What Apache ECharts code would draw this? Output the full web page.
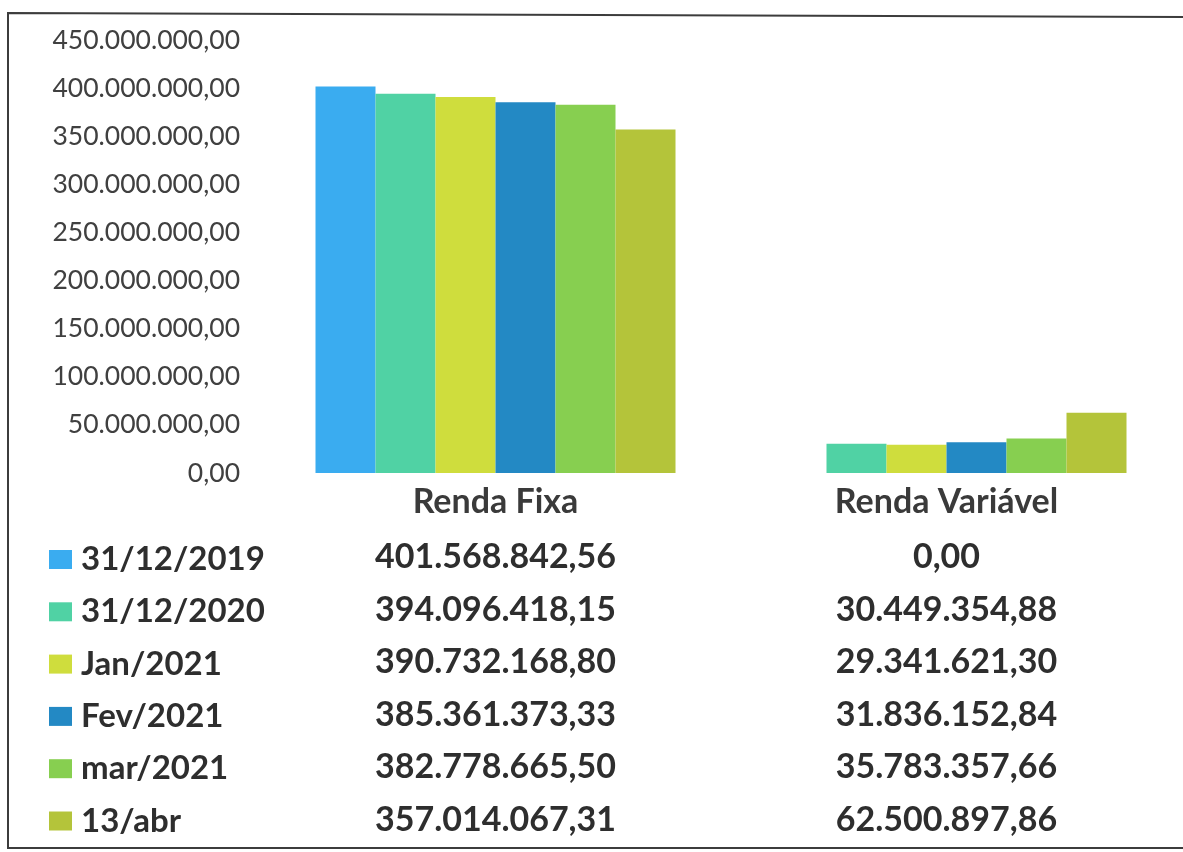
<!DOCTYPE html>
<html>
<head>
<meta charset="utf-8">
<title>Renda Fixa e Renda Variável</title>
<script src="https://cdn.jsdelivr.net/npm/echarts@6/dist/echarts.min.js"></script>
<style>
  html, body { margin: 0; padding: 0; background: #ffffff; }
  #chart { width: 1183px; height: 852px; }
</style>
</head>
<body>
<div id="chart"></div>
<script>
// Categories on the x axis
const categories = ['Renda Fixa', 'Renda Variável'];

// One series per reference date
const seriesNames = ['31/12/2019', '31/12/2020', 'Jan/2021', 'Fev/2021', 'mar/2021', '13/abr'];

// Values per date: Renda Fixa
const rendaFixa = [401568842.56, 394096418.15, 390732168.80, 385361373.33, 382778665.50, 357014067.31];
// Values per date: Renda Variável
const rendaVariavel = [0.00, 30449354.88, 29341621.30, 31836152.84, 35783357.66, 62500897.86];

// Value axis ticks
const yMin = 0;
const yMax = 450000000;
const yStep = 50000000;

const seriesColors = ['#3aacf0', '#50d2a4', '#cfdd3d', '#2389c4', '#87cf50', '#b4c43a'];

// Brazilian number format: 1.234.567,89
function formatBR(v) {
  const fixed = Math.abs(v).toFixed(2);
  const parts = fixed.split('.');
  const intPart = parts[0].replace(/\B(?=(\d{3})+(?!\d))/g, '.');
  return (v < 0 ? '-' : '') + intPart + ',' + parts[1];
}

const valuesByCategory = [rendaFixa, rendaVariavel];

const FONT = 'Lato, "Open Sans", sans-serif';

const chart = echarts.init(document.getElementById('chart'), null, { renderer: 'canvas' });

const series = seriesNames.map((name, i) => ({
  name: name,
  type: 'bar',
  barWidth: 60,
  barGap: '0%',
  itemStyle: { color: seriesColors[i] },
  data: [rendaFixa[i], rendaVariavel[i]],
  emphasis: { disabled: true }
}));

// Category label followed by the data-table rows underneath it
const tableRich = {
  cat: { fontFamily: FONT, fontWeight: 'bold', fontSize: 34, color: '#3a3a3a', lineHeight: 58 },
  v: { fontFamily: FONT, fontWeight: 'bold', fontSize: 34, color: '#2e2e2e', lineHeight: 52.5 }
};

const option = {
  backgroundColor: '#ffffff',
  animation: false,
  textStyle: { fontFamily: FONT },
  grid: { left: 270, right: 11, top: 40, bottom: 379, containLabel: false },
  legend: {
    orient: 'vertical',
    left: 44,
    top: 538,
    height: 320,
    itemWidth: 23,
    itemHeight: 19,
    itemGap: 19.3,
    icon: 'rect',
    selectedMode: false,
    data: seriesNames,
    textStyle: {
      fontFamily: FONT, fontWeight: 'bold', fontSize: 33, color: '#2e2e2e',
      padding: [0, 0, 0, 4]
    }
  },
  xAxis: {
    type: 'category',
    data: categories,
    axisLine: { show: false },
    axisTick: { show: false },
    splitLine: { show: false },
    axisLabel: {
      margin: 0,
      interval: 0,
      formatter: function (value) {
        const ci = categories.indexOf(value);
        const rows = valuesByCategory[ci].map(v => '{v|' + formatBR(v) + '}');
        return ['{cat|' + value + '}'].concat(rows).join('\n');
      },
      rich: tableRich
    }
  },
  yAxis: {
    type: 'value',
    min: yMin,
    max: yMax,
    interval: yStep,
    axisLine: { show: false },
    axisTick: { show: false },
    splitLine: { show: false },
    axisLabel: {
      margin: 30,
      fontFamily: FONT,
      fontSize: 26.5,
      color: '#404040',
      formatter: v => formatBR(v)
    }
  },
  graphic: [{
    type: 'polyline',
    silent: true,
    shape: { points: [[1200, 17], [8, 13], [8, 848], [1200, 848]] },
    style: { stroke: '#3c3c3c', lineWidth: 2, fill: null }
  }],
  series: series
};

chart.setOption(option);
</script>
</body>
</html>
